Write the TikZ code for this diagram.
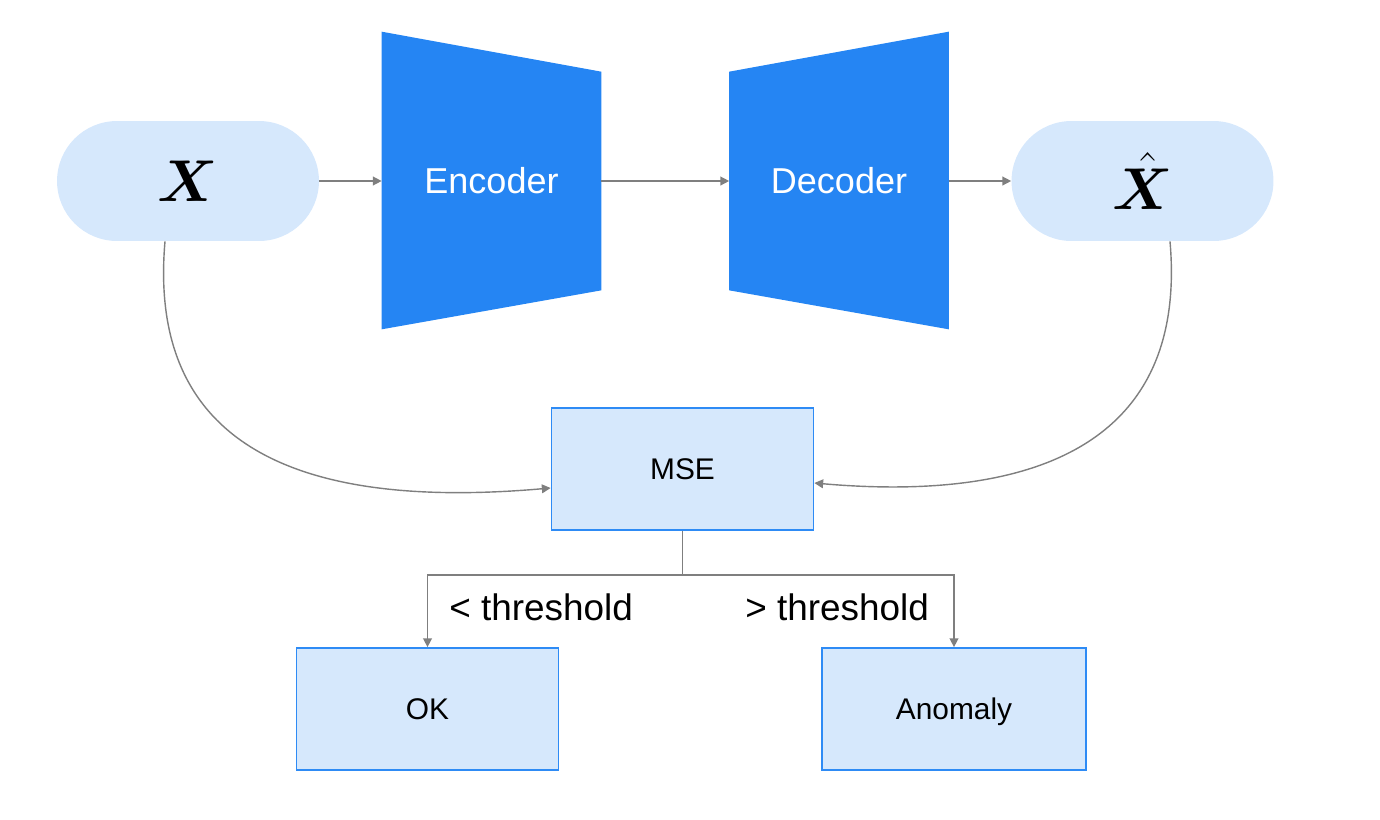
\documentclass[tikz,border=0pt]{standalone}
\usepackage{graphicx}
\usepackage{fontspec}
\setmainfont{Liberation Sans}
\usepackage{bm}
\usepackage{tikz}
\usetikzlibrary{positioning, arrows.meta, backgrounds}

\definecolor{pillblue}{HTML}{D6E8FC}
\definecolor{netblue}{HTML}{2585F3}
\definecolor{edgeblue}{HTML}{2E8BF5}
\definecolor{linegray}{HTML}{7F7F7F}

\newcommand{\bigsym}[1]{\scalebox{1.35}{$\bm{#1}$}}

\begin{document}
\begin{tikzpicture}[x=0.02cm, y=-0.02cm]
\tikzset{
    every node/.style={align=center},
    pill/.style={fill=pillblue, rounded corners=1.2cm, minimum width=5.24cm, minimum height=2.4cm, font=\fontsize{24.88}{30}\selectfont},
    net/.style={minimum width=4.38cm, minimum height=4.36cm, text=white, font=\fontsize{20.5}{24}\selectfont},
    box/.style={draw=edgeblue, line width=1pt, fill=pillblue, minimum width=5.24cm, minimum height=2.44cm, text height=12.2pt, text depth=0pt, font=\fontsize{17}{20}\selectfont},
    link/.style={draw=linegray, line width=0.8pt},
    arr/.style={link, -{Triangle[length=5pt, width=5pt]}},
    lbl/.style={inner sep=0pt, anchor=west, font=\fontsize{21}{24}\selectfont}
}
\useasboundingbox (0,0) rectangle (1380,819);

% top row
\node[pill] (x) at (188,181) {\bigsym{X}};
\node[net] (enc) at (491.5,181) {Encoder};
\node[net] (dec) at (839,181) {Decoder};
\node[pill] (xhat) at (1142.5,181) {\bigsym{\hat{X}}};

\begin{scope}[on background layer]
    \fill[netblue] ([yshift=0.8cm]enc.north west) -- (enc.north east) -- (enc.south east) -- ([yshift=-0.78cm]enc.south west) -- cycle;
    \fill[netblue] (dec.north west) -- ([yshift=0.8cm]dec.north east) -- ([yshift=-0.78cm]dec.south east) -- (dec.south west) -- cycle;
\end{scope}

% error and decision
\node[box] (mse) at (682.5,469) {MSE};
\node[box] (ok) at (427.5,709) {OK};
\node[box, minimum width=5.28cm] (anom) at (954,709) {Anomaly};

\draw[arr] (x) -- (enc);
\draw[arr] (enc) -- (dec);
\draw[arr] (dec) -- (xhat);
\draw[arr] ([xshift=-0.46cm]x.south) to[out=-95, in=185, looseness=1.25] ([yshift=-0.38cm]mse.west);
\draw[arr] ([xshift=0.55cm]xhat.south) to[out=-85, in=-5, looseness=1.25] ([yshift=-0.28cm]mse.east);

\draw[link] (mse.south) -- ++(0,44) coordinate (split);
\draw[arr] (split) -| (ok.north);
\draw[arr] (split) -| (anom.north);

\node[lbl] (lo) at (449,607) {< threshold};
\node[lbl] (hi) at (745,607) {> threshold};
\end{tikzpicture}
\end{document}
